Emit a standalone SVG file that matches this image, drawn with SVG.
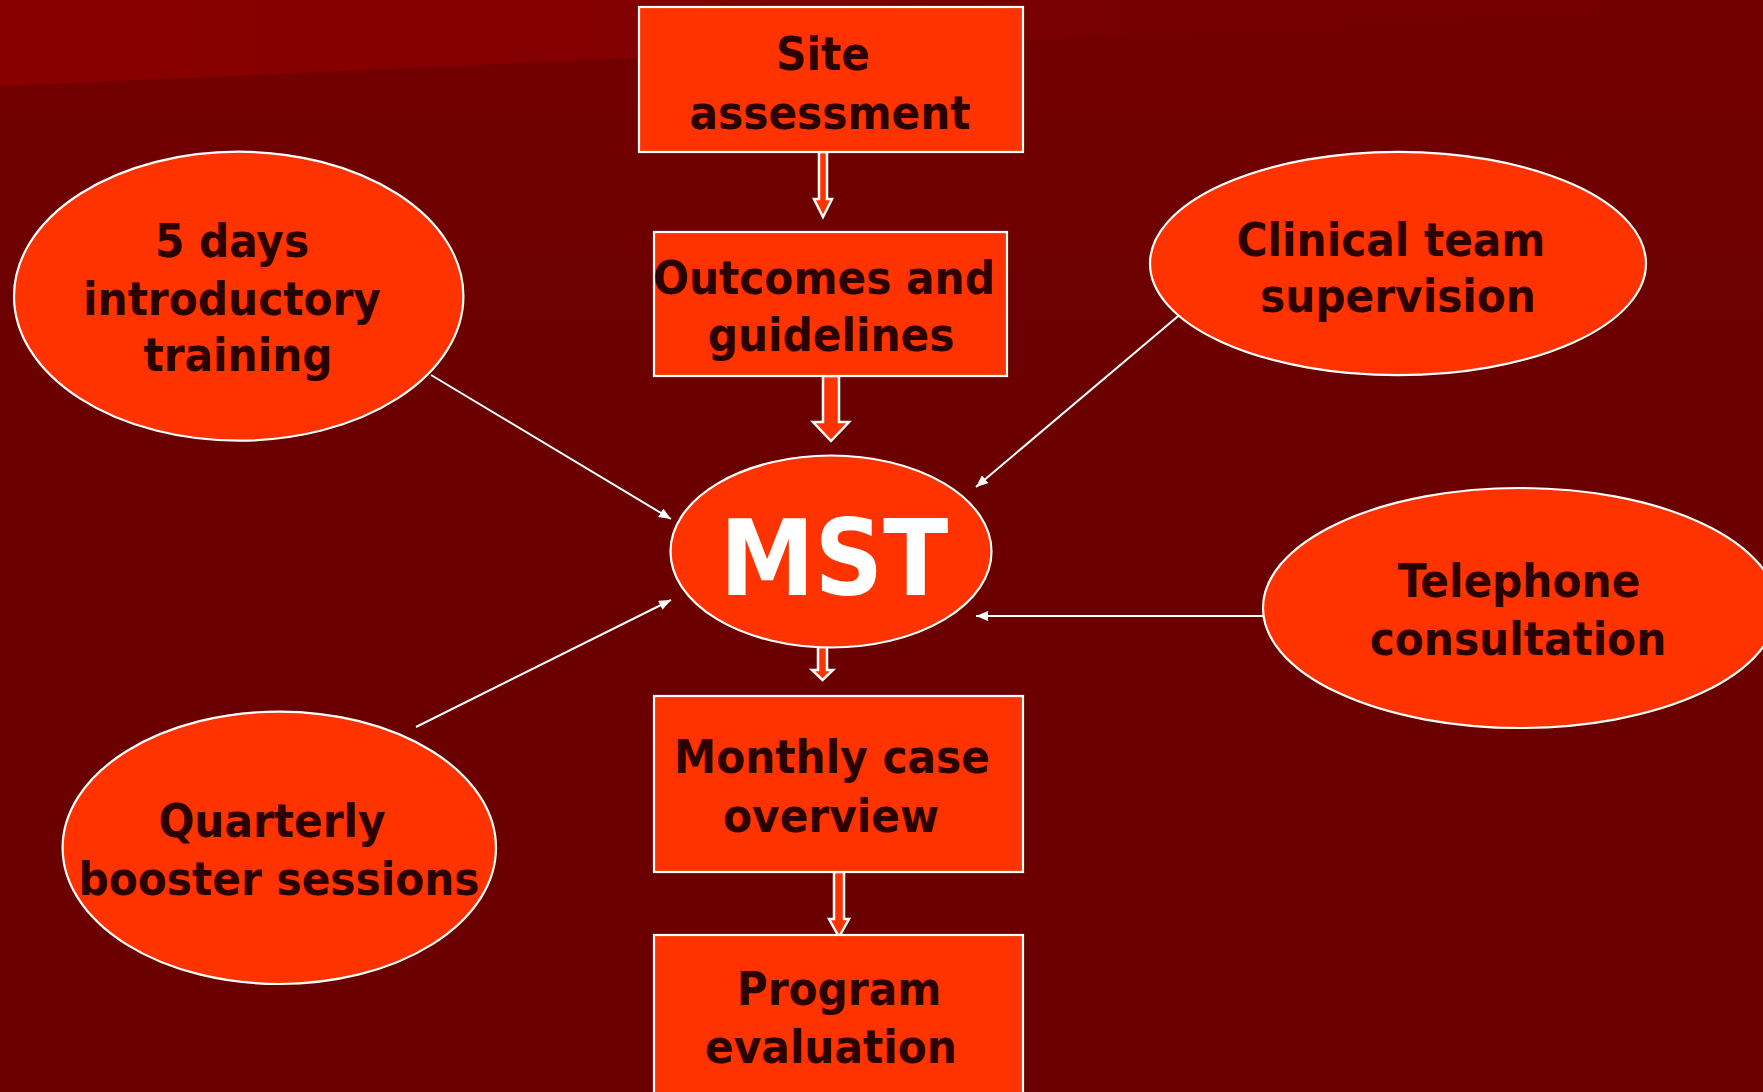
<svg xmlns="http://www.w3.org/2000/svg" width="1763" height="1092" viewBox="0 0 1763 1092">
  <defs>
    <linearGradient id="bgFade" x1="0" y1="0" x2="0" y2="1092" gradientUnits="userSpaceOnUse">
      <stop offset="0" stop-color="#740000"/>
      <stop offset="0.3" stop-color="#6C0000"/>
      <stop offset="1" stop-color="#6A0000"/>
    </linearGradient>
    <linearGradient id="bandFade" x1="0" y1="0" x2="1763" y2="0" gradientUnits="userSpaceOnUse">
      <stop offset="0" stop-color="#8A0000"/>
      <stop offset="0.4" stop-color="#820000"/>
      <stop offset="0.65" stop-color="#760000"/>
      <stop offset="1" stop-color="#730000"/>
    </linearGradient>
    <marker id="tip" viewBox="0 0 12 10" refX="12" refY="5" markerWidth="12" markerHeight="10" markerUnits="userSpaceOnUse" orient="auto">
      <path d="M0,0 L12,5 L0,10 Z" fill="#FFFFFF"/>
    </marker>
    <style>
      .shape { fill: #FF3300; stroke: #FFFFFF; stroke-width: 2.2; }
      .block { fill: #FF3300; stroke: #FFFFFF; stroke-width: 2.5; stroke-linejoin: miter; }
      .link { fill: none; stroke: #FFFFFF; stroke-width: 2; marker-end: url(#tip); }
      .label { font-family: "DejaVu Sans Condensed", "DejaVu Sans", sans-serif; font-stretch: condensed; font-weight: bold; font-size: 47px; fill: #2B0000; text-anchor: middle; }
      .hub { font-family: "DejaVu Sans Condensed", "DejaVu Sans", sans-serif; font-stretch: condensed; font-weight: bold; font-size: 106px; fill: #FFFFFF; text-anchor: middle; }
    </style>
  </defs>

  <!-- background with the lighter slanted band at the top -->
  <rect x="0" y="0" width="1763" height="1092" fill="url(#bgFade)"/>
  <polygon points="0,0 1763,0 1763,8 0,86" fill="url(#bandFade)"/>

  <!-- connectors -->
  <g id="connectors">
    <path class="block" d="M819,152 H827 V199 H832 L823,217 L814,199 H819 Z"/>
    <path class="block" d="M823,376 H839 V422 H849 L831,441 L813,422 H823 Z"/>
    <path class="block" d="M818,647 H827 V670 H833 L822.5,680 L812,670 H818 Z"/>
    <path class="block" d="M834,872 H844 V919 H849 L839,937 L829,919 H834 Z"/>
    <line class="link" x1="431" y1="375" x2="671" y2="519"/>
    <line class="link" x1="1183" y1="312" x2="976" y2="487"/>
    <line class="link" x1="1263" y1="616" x2="976" y2="616"/>
    <line class="link" x1="416" y1="727" x2="671" y2="600"/>
  </g>

  <g id="site-assessment">
    <rect class="shape" x="639" y="7" width="384" height="145"/>
    <text class="label" x="823" y="70">Site</text>
    <text class="label" x="830" y="129">assessment</text>
  </g>

  <g id="outcomes-guidelines">
    <rect class="shape" x="654" y="232" width="353" height="144"/>
    <text class="label" x="824" y="294">Outcomes and</text>
    <text class="label" x="831" y="351">guidelines</text>
  </g>

  <g id="mst">
    <ellipse class="shape" cx="831" cy="551.5" rx="160.5" ry="96"/>
    <text class="hub" x="834" y="595">MST</text>
  </g>

  <g id="monthly-overview">
    <rect class="shape" x="654" y="696" width="369" height="176"/>
    <text class="label" x="832" y="773">Monthly case</text>
    <text class="label" x="831" y="832">overview</text>
  </g>

  <g id="program-evaluation">
    <rect class="shape" x="654" y="935" width="369" height="170"/>
    <text class="label" x="839" y="1005">Program</text>
    <text class="label" x="831" y="1063">evaluation</text>
  </g>

  <g id="introductory-training">
    <ellipse class="shape" cx="238.7" cy="296.2" rx="224.7" ry="144.5"/>
    <text class="label" x="232" y="257">5 days</text>
    <text class="label" x="232" y="315">introductory</text>
    <text class="label" x="238" y="371">training</text>
  </g>

  <g id="clinical-supervision">
    <ellipse class="shape" cx="1398" cy="263.5" rx="248" ry="111.7"/>
    <text class="label" x="1391" y="256">Clinical team</text>
    <text class="label" x="1398" y="312">supervision</text>
  </g>

  <g id="telephone-consultation">
    <ellipse class="shape" cx="1520" cy="608" rx="257" ry="120"/>
    <text class="label" x="1519" y="597">Telephone</text>
    <text class="label" x="1518" y="655">consultation</text>
  </g>

  <g id="booster-sessions">
    <ellipse class="shape" cx="279.3" cy="847.8" rx="216.7" ry="136.2"/>
    <text class="label" x="272" y="837">Quarterly</text>
    <text class="label" x="279" y="895">booster sessions</text>
  </g>
</svg>
